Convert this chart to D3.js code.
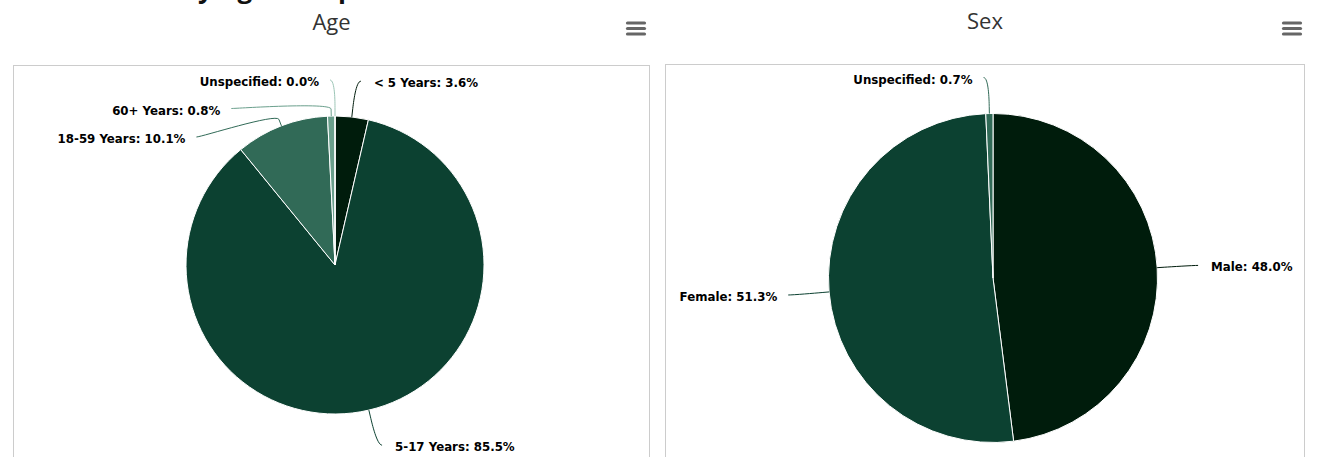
<!DOCTYPE html>
<html>
<head>
<meta charset="utf-8">
<script src="https://cdn.jsdelivr.net/npm/d3@7"></script>
<style>
  html, body { margin: 0; padding: 0; background: #fff; }
  svg { display: block; }
</style>
</head>
<body>
<svg id="chart" width="1327" height="457"></svg>
<script>
// Age breakdown
const ageCategories = ['< 5 Years', '5-17 Years', '18-59 Years', '60+ Years', 'Unspecified'];
const ageValues = [3.6, 85.5, 10.1, 0.8, 0.0];

// Sex breakdown
const sexCategories = ['Male', 'Female', 'Unspecified'];
const sexValues = [48.0, 51.3, 0.7];

// Slice colours, in series order
const palette = ['#001c0c', '#0c4131', '#316a57', '#6a9f8c', '#9cc5b6'];

const svg = d3.select('#chart');

// Page heading, mostly above the visible area
const heading = svg.append('text')
  .attr('y', -2)
  .attr('font-family', 'Open Sans, sans-serif')
  .attr('font-weight', 700)
  .attr('font-size', 26)
  .attr('fill', '#111')
  .text('Beneficiaries by Age Group');
const prefixWidth = heading.node().getSubStringLength(0, 'Beneficiaries b'.length);
heading.attr('x', 198 - prefixWidth);

// Panel layout (one chart per panel)
const panels = [
  { title: 'Age', names: ageCategories, values: ageValues,
    box: { x: 13.5, y: 65.5, w: 636, h: 420 }, titleY: 30, menuX: 636,
    cx: 335, cy: 265, r: 149 },
  { title: 'Sex', names: sexCategories, values: sexValues,
    box: { x: 665.5, y: 64.5, w: 639, h: 420 }, titleY: 29, menuX: 1292,
    cx: 993, cy: 278, r: 164.5 }
];

const labelDistance = 36;   // from slice edge to label anchor
const labelPad = 5;         // extra horizontal padding at the anchor
const breakOffset = 7;      // where the connector leaves the slice direction
const labelSpacing = 28.5;  // minimum vertical gap between labels on one side

function drawPanel(p) {
  const g = svg.append('g');

  // Bordered panel
  g.append('rect')
    .attr('x', p.box.x).attr('y', p.box.y)
    .attr('width', p.box.w).attr('height', p.box.h)
    .attr('fill', 'none').attr('stroke', '#cccccc').attr('stroke-width', 1);

  // Title, centred over the panel
  g.append('text')
    .attr('x', p.box.x + p.box.w / 2)
    .attr('y', p.titleY)
    .attr('text-anchor', 'middle')
    .attr('font-family', 'Open Sans, sans-serif')
    .attr('font-size', 22)
    .attr('fill', '#333333')
    .text(p.title);

  // Context-menu icon
  [23, 28.5, 34].forEach(y => {
    g.append('line')
      .attr('x1', p.menuX - 8.5).attr('x2', p.menuX + 8.5)
      .attr('y1', y).attr('y2', y)
      .attr('stroke', '#666666').attr('stroke-width', 3.2)
      .attr('stroke-linecap', 'round');
  });

  const data = p.names.map((name, i) => ({ name, value: p.values[i], color: palette[i] }));
  const pie = d3.pie().sort(null).value(d => d.value).startAngle(0).endAngle(2 * Math.PI);
  const arcs = pie(data);
  const arc = d3.arc().innerRadius(0).outerRadius(p.r);

  const pieG = g.append('g').attr('transform', `translate(${p.cx},${p.cy})`);
  pieG.selectAll('path.slice')
    .data(arcs)
    .join('path')
    .attr('class', 'slice')
    .attr('d', arc)
    .attr('fill', d => d.data.color)
    .attr('stroke', '#ffffff')
    .attr('stroke-width', 1)
    .attr('stroke-linejoin', 'round');

  // Label geometry
  const R = p.r + labelDistance;
  const labels = arcs.map(a => {
    const mid = (a.startAngle + a.endAngle) / 2;
    const ux = Math.sin(mid), uy = -Math.cos(mid);
    return {
      a,
      left: mid > Math.PI,
      ux, uy,
      touch: { x: p.cx + p.r * ux, y: p.cy + p.r * uy },
      brk: { x: p.cx + (p.r + breakOffset) * ux, y: p.cy + (p.r + breakOffset) * uy },
      y: p.cy + R * uy
    };
  });

  // Push overlapping labels downward, one side at a time
  [true, false].forEach(side => {
    const list = labels.filter(l => l.left === side).sort((m, n) => m.y - n.y);
    for (let i = 1; i < list.length; i++) {
      list[i].y = Math.max(list[i].y, list[i - 1].y + labelSpacing);
    }
  });

  labels.forEach(l => {
    const dy = Math.min(Math.abs(l.y - p.cy), R);
    const dx = Math.sqrt(R * R - dy * dy) + labelPad;
    l.x = p.cx + (l.left ? -dx : dx);
  });

  // Connectors with a soft bend near the slice
  g.selectAll('path.connector')
    .data(labels)
    .join('path')
    .attr('class', 'connector')
    .attr('fill', 'none')
    .attr('stroke', l => l.a.data.color)
    .attr('stroke-width', 1)
    .attr('d', l => {
      const c1x = l.x + (l.left ? 5 : -5);
      const c2x = 2 * l.brk.x - l.touch.x;
      const c2y = 2 * l.brk.y - l.touch.y;
      return `M${l.x},${l.y}C${c1x},${l.y} ${c2x},${c2y} ${l.brk.x},${l.brk.y}L${l.touch.x},${l.touch.y}`;
    });

  g.selectAll('text.label')
    .data(labels)
    .join('text')
    .attr('class', 'label')
    .attr('x', l => l.left ? l.x - 11 : l.x + 13)
    .attr('y', l => l.y + 6)
    .attr('text-anchor', l => l.left ? 'end' : 'start')
    .attr('font-family', 'DejaVu Sans, sans-serif')
    .attr('font-weight', 'bold')
    .attr('font-size', 11.8)
    .attr('fill', '#000000')
    .attr('stroke', '#ffffff')
    .attr('stroke-width', 1.5)
    .attr('stroke-linejoin', 'round')
    .attr('paint-order', 'stroke')
    .text(l => `${l.a.data.name}: ${l.a.data.value.toFixed(1)}%`);
}

panels.forEach(drawPanel);
</script>
</body>
</html>
